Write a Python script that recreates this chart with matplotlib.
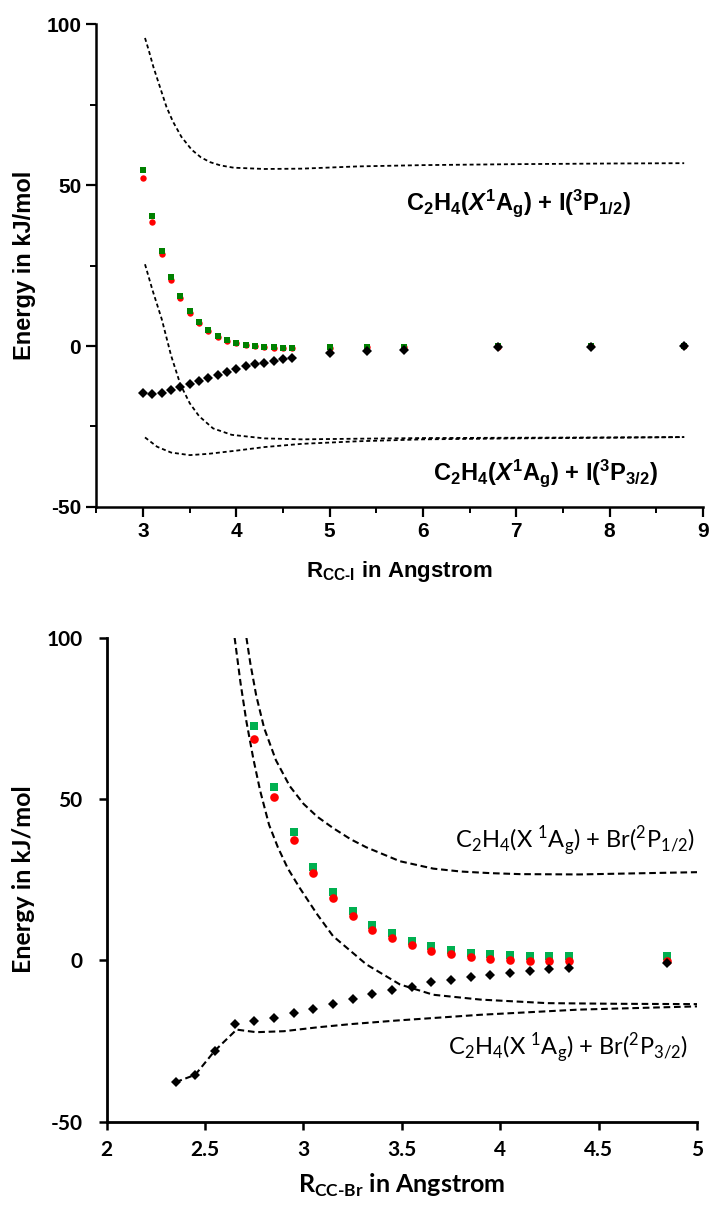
# C2H4 + I / C2H4 + Br のポテンシャルエネルギー曲線（2段の図）
import numpy as np
from matplotlib import pyplot as plt
from matplotlib.ticker import MultipleLocator

plt.rcParams['axes.unicode_minus'] = False
plt.rcParams['mathtext.fontset'] = 'custom'
plt.rcParams['mathtext.it'] = 'Liberation Sans:italic:bold'

# ---- 上段: C2H4-I ----
r_i = [3.0, 3.1, 3.2, 3.3, 3.4, 3.5, 3.6, 3.7, 3.8, 3.9, 4.0, 4.1, 4.2, 4.3, 4.4, 4.5, 4.6,
       5.0, 5.4, 5.8, 6.8, 7.8, 8.8]
green_i = [54.7, 40.4, 29.6, 21.4, 15.4, 10.9, 7.5, 4.9, 3.2, 1.9, 1.0, 0.4, 0.0, -0.2, -0.4, -0.5, -0.5,
           -0.4, -0.2, -0.2, -0.1, 0.0, 0.0]
red_i = [52.1, 38.6, 28.5, 20.6, 14.8, 10.4, 7.1, 4.6, 2.9, 1.7, 0.8, 0.2, -0.1, -0.3, -0.5, -0.6, -0.6,
         -0.5, -0.3, -0.3, -0.2, -0.1, 0.0]
black_i = [-14.5, -14.8, -14.5, -13.7, -12.6, -11.9, -10.8, -9.8, -9.0, -8.1, -7.1, -6.2, -5.5, -5.2, -4.6, -4.1, -3.6,
           -2.3, -1.6, -1.2, -0.4, -0.2, 0.0]

# 破線の曲線
up_x = [3.02, 3.06, 3.11, 3.18, 3.25, 3.32, 3.41, 3.52, 3.62, 3.72, 3.83, 3.97, 4.3, 4.7, 5.3, 6.0, 7.0, 8.0, 8.8]
up_y = [95.7, 91.9, 86.7, 80.5, 74.3, 69.7, 65.0, 61.0, 58.6, 57.1, 56.1, 55.4, 55.0, 55.1, 55.8, 56.2, 56.5, 56.7, 56.8]
lowa_x = [3.02, 3.1, 3.2, 3.3, 3.4, 3.5, 3.6, 3.75, 3.95, 4.3, 4.7, 5.3, 6.0, 7.0, 8.0, 8.8]
lowa_y = [25.4, 17.4, 8.3, -3.0, -12.0, -17.8, -21.8, -25.6, -27.6, -28.7, -29.0, -28.8, -28.6, -28.5, -28.4, -28.3]
lowb_x = [3.02, 3.15, 3.3, 3.5, 3.7, 4.0, 4.3, 4.7, 5.3, 6.0, 7.0, 8.0, 8.8]
lowb_y = [-28.4, -31.3, -33.1, -33.9, -33.5, -32.5, -31.4, -30.4, -29.6, -29.0, -28.7, -28.5, -28.3]

# ---- 下段: C2H4-Br ----
r_br = [2.75, 2.85, 2.95, 3.05, 3.15, 3.25, 3.35, 3.45, 3.55, 3.65, 3.75, 3.85, 3.95, 4.05, 4.15, 4.25, 4.35, 4.85]
green_br = [72.6, 53.8, 39.8, 29.0, 21.1, 15.2, 10.9, 8.4, 5.9, 4.3, 3.1, 2.3, 1.8, 1.5, 1.2, 1.2, 1.2, 1.2]
red_br = [68.5, 50.6, 37.2, 26.9, 19.4, 13.7, 9.5, 6.8, 4.6, 3.0, 1.8, 0.9, 0.4, 0.1, -0.1, -0.3, -0.3, -0.3]
rd_br = [2.35, 2.45, 2.55, 2.65, 2.75, 2.85, 2.95, 3.05, 3.15, 3.25, 3.35, 3.45, 3.55, 3.65, 3.75, 3.85,
         3.95, 4.05, 4.15, 4.25, 4.35, 4.85]
black_br = [-37.8, -35.5, -28.0, -19.8, -18.7, -17.9, -16.5, -15.0, -13.5, -12.0, -10.5, -9.2, -8.2, -6.8, -6.1, -5.3,
            -4.6, -3.8, -3.2, -2.8, -2.4, -0.8]

in_x = [2.65, 2.68, 2.71, 2.745, 2.78, 2.825, 2.87, 2.92, 2.98, 3.07, 3.15, 3.32, 3.49, 3.66, 3.9, 4.24, 4.6, 5.0]
in_y = [100, 86.0, 74.0, 62.5, 52.5, 42.0, 35.0, 28.5, 22.5, 14.2, 7.5, -1.3, -7.5, -10.7, -12.2, -13.3, -13.5, -13.6]
out_x = [2.71, 2.73, 2.76, 2.8, 2.86, 2.93, 3.0, 3.07, 3.15, 3.24, 3.32, 3.49, 3.66, 3.8, 3.95, 4.1, 4.4, 5.0]
out_y = [100, 92.0, 82.0, 72.0, 62.0, 54.0, 48.5, 44.5, 41.0, 37.5, 35.0, 30.7, 28.4, 27.5, 27.0, 26.7, 26.6, 27.3]
att_x = [2.35, 2.45, 2.55, 2.66, 2.76, 2.9, 3.07, 3.24, 3.47, 3.9, 4.4, 5.0]
att_y = [-37.8, -35.5, -28.0, -21.5, -22.3, -22.0, -20.8, -19.8, -18.7, -16.9, -15.3, -14.3]

fig = plt.figure(figsize=(7.10, 12.07), dpi=100)

# 上段を描く
f1 = ['Liberation Sans', 'DejaVu Sans']
ax1 = fig.add_axes([0.1359, 0.580, 0.854, 0.400])
dash1 = (0, (2.2, 1.6))
for xx, yy in [(up_x, up_y), (lowa_x, lowa_y), (lowb_x, lowb_y)]:
    ax1.plot(xx, yy, color="black", linestyle=dash1, linewidth=1.3)
ax1.plot(r_i, red_i, "o", color="#ff0000", markersize=4.6, markeredgewidth=0)
ax1.plot(r_i, green_i, "s", color="#008000", markersize=4.6, markeredgewidth=0)
ax1.plot(r_i, black_i, "D", color="black", markersize=5.4, markeredgewidth=0)
ax1.set_xlim(2.5, 9)
ax1.set_ylim(-50, 100)
ax1.xaxis.set_major_locator(MultipleLocator(1))
ax1.xaxis.set_minor_locator(MultipleLocator(0.5))
ax1.yaxis.set_major_locator(MultipleLocator(50))
ax1.yaxis.set_minor_locator(MultipleLocator(25))
for s in ["top", "right"]:
    ax1.spines[s].set_visible(False)
for s in ["left", "bottom"]:
    ax1.spines[s].set_linewidth(1.8)
ax1.tick_params(which="major", direction="out", length=7, width=1.6, labelsize=15, pad=4)
ax1.tick_params(which="minor", direction="out", length=4.5, width=1.4)
for lab in ax1.get_xticklabels() + ax1.get_yticklabels():
    lab.set_fontfamily(f1)
    lab.set_fontweight("bold")
ax1.set_ylabel("Energy in kJ/mol", fontsize=17, fontweight="bold", family=f1, labelpad=7)
ax1.set_xlabel("R$_\\mathregular{CC\u2010I}$ in Angstrom", fontsize=16, fontweight="bold", family=f1, labelpad=13)
ax1.text(7.02, 42.2, r"C$_\mathregular{2}$H$_\mathregular{4}$($\mathit{X}^\mathregular{1}$A$_\mathregular{g}$) + I($^\mathregular{3}$P$_\mathregular{1/2}$)",
         fontsize=17, fontweight="bold", family=f1, ha="center", va="baseline")
ax1.text(7.31, -41.6, r"C$_\mathregular{2}$H$_\mathregular{4}$($\mathit{X}^\mathregular{1}$A$_\mathregular{g}$) + I($^\mathregular{3}$P$_\mathregular{3/2}$)",
         fontsize=17, fontweight="bold", family=f1, ha="center", va="baseline")

# 下段を描く
f2 = ['Lato', 'DejaVu Sans']
ax2 = fig.add_axes([0.1503, 0.0708, 0.8314, 0.4009])
dash2 = (0, (3.2, 1.8))
for xx, yy in [(in_x, in_y), (out_x, out_y), (att_x, att_y)]:
    ax2.plot(xx, yy, color="black", linestyle=dash2, linewidth=1.5)
ax2.plot(r_br, green_br, "s", color="#00b050", markersize=6, markeredgewidth=0)
ax2.plot(r_br, red_br, "o", color="#ff0000", markersize=6.2, markeredgewidth=0)
ax2.plot(rd_br, black_br, "D", color="black", markersize=5.6, markeredgewidth=0)
ax2.set_xlim(2, 5)
ax2.set_ylim(-50, 100)
ax2.yaxis.set_major_locator(MultipleLocator(50))
ax2.set_xticks([2, 2.5, 3, 3.5, 4, 4.5, 5])
ax2.set_xticklabels(["2", "2.5", "3", "3.5", "4", "4.5", "5"])
for s in ["top", "right"]:
    ax2.spines[s].set_visible(False)
for s in ["left", "bottom"]:
    ax2.spines[s].set_linewidth(2.0)
ax2.tick_params(which="major", direction="out", length=5.5, width=1.8, labelsize=15)
ax2.tick_params(axis="y", pad=12)
ax2.tick_params(axis="x", pad=8)
for lab in ax2.get_xticklabels() + ax2.get_yticklabels():
    lab.set_fontfamily(f2)
    lab.set_fontweight("bold")
ax2.set_ylabel("Energy in kJ/mol", fontsize=18, fontweight="bold", family=f2, labelpad=8)
ax2.set_xlabel("R$_\\mathregular{CC\u2010Br}$ in Angstrom", fontsize=18, fontweight="bold", family=f2, labelpad=8)
ax2.text(4.99, 34.8, r"C$_\mathregular{2}$H$_\mathregular{4}$(X $^\mathregular{1}$A$_\mathregular{g}$) + Br($^\mathregular{2}$P$_\mathregular{1/2}$)",
         fontsize=17, family=f2, ha="right", va="baseline")
ax2.text(4.955, -29.3, r"C$_\mathregular{2}$H$_\mathregular{4}$(X $^\mathregular{1}$A$_\mathregular{g}$) + Br($^\mathregular{2}$P$_\mathregular{3/2}$)",
         fontsize=17, family=f2, ha="right", va="baseline")

plt.savefig("out.png", dpi=100)
